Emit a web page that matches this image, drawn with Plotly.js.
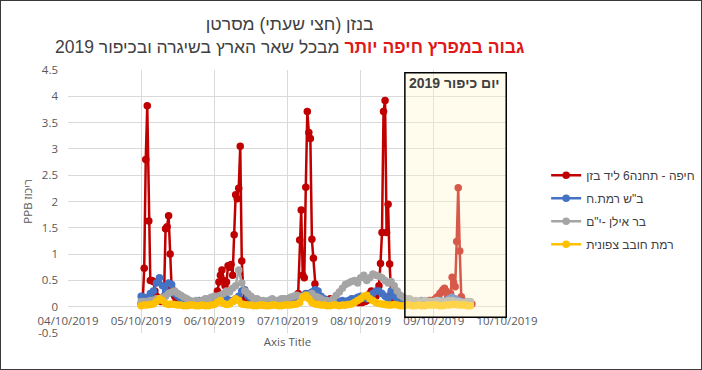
<!DOCTYPE html>
<html>
<head>
<meta charset="utf-8">
<script src="https://cdn.plot.ly/plotly-3.0.1.min.js"></script>
<style>
  html, body { margin: 0; padding: 0; background: #fff; }
  #wrap { position: relative; width: 702px; height: 370px; }
  #chart { position: absolute; left: 0; top: 0; width: 702px; height: 370px; }
  #frame { position: absolute; left: 0; top: 0; width: 702px; height: 370px; box-sizing: border-box; border: 1px solid #3a3a3a; pointer-events: none; }
</style>
</head>
<body>
<div id="wrap"><div id="chart"></div><div id="frame"></div></div>
<script>
// ---- Data ----
const seriesNames = ["חיפה - תחנה6 ליד בזן", "ב\"ש רמת.ח", "בר אילן -י\"ם", "רמת חובב צפונית"];
const seriesColors = ["#C00000", "#4472C4", "#A5A5A5", "#FFC000"];

// Haifa (half-hourly from 05/10/2019 00:00)
const startHaifa = "2019-10-05 00:00";
const haifaValues = [
  // 05/10
  0.05,0.1,0.73,2.8,3.82,1.63,0.5,0.5,0.48,0.3,0.2,0.15,0.12,0.1,0.12,0.2,1.48,1.52,1.73,1.0,0.35,0.3,0.2,0.12,
  0.1,0.08,0.08,0.06,0.05,0.05,0.05,0.04,0.04,0.05,0.05,0.04,0.03,0.03,0.04,0.05,0.05,0.04,0.04,0.05,0.05,0.06,0.08,0.1,
  // 06/10
  0.1,0.12,0.3,0.47,0.6,0.7,0.5,0.4,0.47,0.78,0.75,0.8,0.6,1.37,2.13,2.05,2.25,3.05,0.87,0.3,0.15,0.12,0.1,0.08,
  0.06,0.05,0.05,0.04,0.04,0.05,0.05,0.04,0.04,0.03,0.04,0.05,0.05,0.05,0.04,0.04,0.05,0.06,0.08,0.08,0.06,0.05,0.05,0.06,
  // 07/10
  0.06,0.05,0.05,0.06,0.08,0.1,0.12,0.25,1.27,1.84,0.6,0.55,2.27,3.71,3.31,3.2,1.28,0.92,0.43,0.15,0.1,0.08,
  0.06,0.05,0.05,0.04,0.04,0.1,0.15,0.12,0.08,0.08,0.06,0.05,0.05,0.06,0.05,0.04,0.04,0.05,0.05,0.06,0.08,0.1,0.12,0.1,0.08,0.08,
  // 08/10
  0.08,0.08,0.1,0.1,0.12,0.15,0.25,0.3,0.28,0.22,0.2,0.3,0.4,0.82,1.41,3.71,3.92,1.41,1.95,0.81,0.25,0.15,0.12,0.1,
  0.08,0.06,0.05,0.05,0.05,0.04,0.04,0.05,0.05,0.06,0.05,0.05,0.06,0.06,0.08,0.08,0.08,0.1,0.1,0.08,0.1,0.12,0.12,0.1,
  // 09/10
  0.12,0.15,0.18,0.2,0.25,0.28,0.32,0.35,0.3,0.22,0.18,0.25,0.56,0.45,0.38,1.24,2.26,1.06,0.19,0.12,0.1,0.08,0.06,0.05,0.05,0.05
];

// Other stations (hourly from 05/10/2019 00:00)
const startHourly = "2019-10-05 00:00";
const beershevaValues = [
  0.2,0.18,0.15,0.25,0.3,0.45,0.55,0.4,0.3,0.45,0.42,0.25,0.2,0.12,0.1,0.1,0.1,0.08,0.1,0.12,0.1,0.08,0.08,0.1,
  0.1,0.12,0.1,0.12,0.15,0.12,0.1,0.15,0.2,0.3,0.32,0.2,0.12,0.1,0.08,0.08,0.1,0.1,0.12,0.1,0.1,0.12,0.12,0.1,
  0.12,0.15,0.1,0.12,0.15,0.2,0.25,0.25,0.28,0.32,0.3,0.2,0.15,0.1,0.08,0.07,0.08,0.1,0.12,0.1,0.12,0.15,0.15,0.18,
  0.2,0.18,0.15,0.2,0.25,0.3,0.3,0.25,0.2,0.15,0.3,0.2,0.15,0.12,0.1,0.1,0.12,0.1,0.1,0.1,0.12,0.1,0.1,0.1,
  0.1,0.1,0.12,0.1,0.12,0.15,0.18,0.15,0.12,0.1,0.08,0.08,0.05
];
const barIlanValues = [
  0.1,0.1,0.1,0.12,0.12,0.15,0.15,0.18,0.2,0.25,0.28,0.3,0.25,0.22,0.18,0.15,0.12,0.1,0.12,0.1,0.12,0.15,0.15,0.18,
  0.2,0.2,0.22,0.25,0.3,0.28,0.35,0.4,0.7,0.45,0.3,0.25,0.2,0.15,0.15,0.12,0.12,0.1,0.12,0.15,0.12,0.12,0.15,0.15,
  0.15,0.18,0.2,0.22,0.2,0.18,0.2,0.22,0.25,0.2,0.18,0.15,0.12,0.12,0.1,0.15,0.22,0.28,0.35,0.42,0.45,0.48,0.5,0.45,
  0.55,0.6,0.5,0.55,0.62,0.6,0.58,0.55,0.5,0.45,0.48,0.4,0.3,0.22,0.18,0.15,0.15,0.12,0.12,0.1,0.1,0.12,0.1,0.1,
  0.1,0.12,0.1,0.1,0.1,0.12,0.12,0.1,0.1,0.08,0.08,0.1,0.1
];
const ramatHovavValues = [
  0.02,0.03,0.03,0.04,0.05,0.1,0.15,0.12,0.06,0.04,0.05,0.04,0.03,0.03,0.02,0.02,0.03,0.03,0.02,0.02,0.03,0.02,0.02,0.03,
  0.04,0.08,0.12,0.06,0.04,0.05,0.1,0.15,0.12,0.05,0.04,0.03,0.03,0.02,0.02,0.03,0.03,0.02,0.02,0.03,0.03,0.02,0.02,0.03,
  0.03,0.03,0.04,0.05,0.08,0.18,0.22,0.15,0.08,0.05,0.04,0.03,0.03,0.02,0.02,0.03,0.03,0.02,0.03,0.03,0.04,0.05,0.08,0.12,
  0.15,0.2,0.22,0.15,0.12,0.08,0.06,0.05,0.04,0.03,0.03,0.04,0.03,0.02,0.02,0.03,0.03,0.02,0.02,0.03,0.02,0.02,0.03,0.03,
  0.03,0.03,0.02,0.02,0.03,0.03,0.04,0.04,0.03,0.03,0.03,0.02,0.02
];

const yTickVals = [-0.5,0,0.5,1,1.5,2,2.5,3,3.5,4,4.5];
const yTickText = ["-0.5","0","0.5","1","1.5","2","2.5","3","3.5","4","4.5"];
const xRange = ["2019-10-04", "2019-10-10"];
const kippurStart = "2019-10-08 14:30";
const kippurEnd = "2019-10-09 23:45";
const kippurLabel = "יום כיפור 2019";

const titleLine1 = "בנזן (חצי שעתי) מסרטן";
const titleRed = "גבוה במפרץ חיפה יותר";
const titleRest = "מבכל שאר הארץ בשיגרה ובכיפור 2019";

// ---- Traces ----
const HALF_HOUR = 30 * 60 * 1000, HOUR = 60 * 60 * 1000;
const valueSets = [haifaValues, beershevaValues, barIlanValues, ramatHovavValues];
const starts = [startHaifa, startHourly, startHourly, startHourly];
const steps = [HALF_HOUR, HOUR, HOUR, HOUR];

const traces = valueSets.map((vals, k) => ({
  type: "scatter",
  mode: "lines+markers",
  name: seriesNames[k],
  x0: starts[k],
  dx: steps[k],
  y: vals,
  line: { color: seriesColors[k], width: 2.5 },
  marker: { color: seriesColors[k], size: 7.5, symbol: "circle" },
  legendgroup: "g" + k,
  hoverinfo: "skip"
}));

const tickFont = { family: "Open Sans, Arial, sans-serif", size: 11.5, color: "#595959" };

const layout = {
  width: 702, height: 370,
  margin: { l: 68, r: 195, t: 70, b: 37, autoexpand: false },
  paper_bgcolor: "#ffffff",
  plot_bgcolor: "#ffffff",
  font: { family: "Arial, Liberation Sans, sans-serif", color: "#404040" },
  title: {
    text: titleLine1 + "<br><span style='color:#E01818'><b>" + titleRed + "</b></span> " + titleRest,
    font: { family: "Arial, Liberation Sans, sans-serif", size: 17.5, color: "#404040" },
    xref: "paper", x: 0.505, xanchor: "center",
    yref: "container", y: 0.918, yanchor: "top"
  },
  xaxis: {
    type: "date",
    range: xRange,
    tick0: "2019-10-04",
    dtick: 86400000,
    tickformat: "%d/%m/%Y",
    showgrid: true, gridcolor: "#D9D9D9", gridwidth: 1,
    zeroline: false, showline: false,
    anchor: "free", position: 0.1,
    ticks: "", ticklabelstandoff: 6,
    tickfont: tickFont,
    title: { text: "Axis Title", font: { family: "Open Sans, Arial, sans-serif", size: 11.5, color: "#595959" }, standoff: 10 }
  },
  yaxis: {
    range: [-0.5, 4.5],
    tickvals: yTickVals, ticktext: yTickText,
    showgrid: true, gridcolor: "#D9D9D9", gridwidth: 1,
    zeroline: false, showline: false,
    ticks: "", ticklabelstandoff: 9,
    tickfont: tickFont,
    title: { text: "PPB ריכוז", font: { family: "Open Sans, Arial, sans-serif", size: 11.5, color: "#595959" }, standoff: 3 }
  },
  showlegend: true,
  legend: {
    xref: "container", x: 0.778, xanchor: "left",
    y: 0.655, yanchor: "top",
    bgcolor: "rgba(0,0,0,0)",
    font: { family: "Arial, Liberation Sans, sans-serif", size: 12, color: "#404040" },
    tracegroupgap: 4
  },
  shapes: [{
    type: "rect", xref: "x", yref: "y",
    x0: kippurStart, x1: kippurEnd, y0: -0.2, y1: 4.45,
    fillcolor: "rgba(255,246,205,0.36)",
    line: { color: "#000000", width: 1.5 },
    layer: "above"
  }],
  annotations: [{
    text: "<b>" + kippurLabel + "</b>",
    xref: "paper", yref: "y",
    x: 0.989, xanchor: "right",
    y: 4.25, yanchor: "middle",
    showarrow: false,
    font: { family: "Arial, Liberation Sans, sans-serif", size: 14, color: "#404040" }
  }]
};

Plotly.newPlot("chart", traces, layout, { displayModeBar: false, staticPlot: true });
</script>
</body>
</html>
